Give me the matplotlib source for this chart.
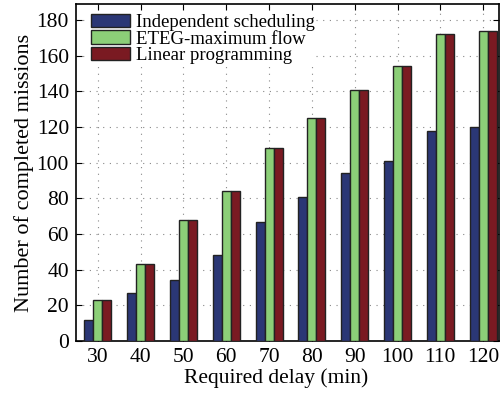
import numpy as np
import matplotlib.pyplot as plt

plt.rcParams['font.family'] = ['Liberation Serif', 'DejaVu Serif']
plt.rcParams['font.size'] = 15.5

delays = [30, 40, 50, 60, 70, 80, 90, 100, 110, 120]
independent = [12, 27, 34, 48, 67, 81, 94, 101, 118, 120]
eteg_maxflow = [23, 43, 68, 84, 108, 125, 141, 154, 172, 174]
linear_prog = [23, 43, 68, 84, 108, 125, 141, 154, 172, 174]

series = [
    ('Independent scheduling', independent, '#2b3775'),
    ('ETEG-maximum flow', eteg_maxflow, '#8ccf78'),
    ('Linear programming', linear_prog, '#7a1a22'),
]

fig = plt.figure(figsize=(5.03, 3.98), dpi=100)
ax = fig.add_axes([0.151, 0.143, 0.841, 0.847])

x = np.array(delays, dtype=float)
w = 2.1
for i, (name, vals, col) in enumerate(series):
    ax.bar(x + (i - 1) * w, vals, width=w, color=col, edgecolor='#222222',
           linewidth=1.0, label=name, zorder=3)

ax.set_xlim(24.9, 123.7)
ax.set_ylim(0, 189)
ax.set_xticks(delays)
ax.set_yticks(range(0, 181, 20))
ax.grid(True, linestyle=(0, (1, 5)), color='#888888', linewidth=0.8, zorder=0)
ax.tick_params(direction='in', top=True, right=True, length=4, width=0.8, pad=5)
for s in ax.spines.values():
    s.set_linewidth(1.2)

ax.set_xlabel('Required delay (min)')
ax.xaxis.set_label_coords(0.473, -0.082)
ax.set_ylabel('Number of completed missions', fontsize=16, labelpad=2)

leg = ax.legend(loc='upper left', bbox_to_anchor=(0.03, 0.975), frameon=True,
                fancybox=False, edgecolor='none', framealpha=1, fontsize=13.5,
                handlelength=2.1, handleheight=0.7, handletextpad=0.3,
                labelspacing=-0.05, borderpad=0.1, borderaxespad=0)
leg.set_zorder(5)

fig.savefig('out.png', dpi=100)
